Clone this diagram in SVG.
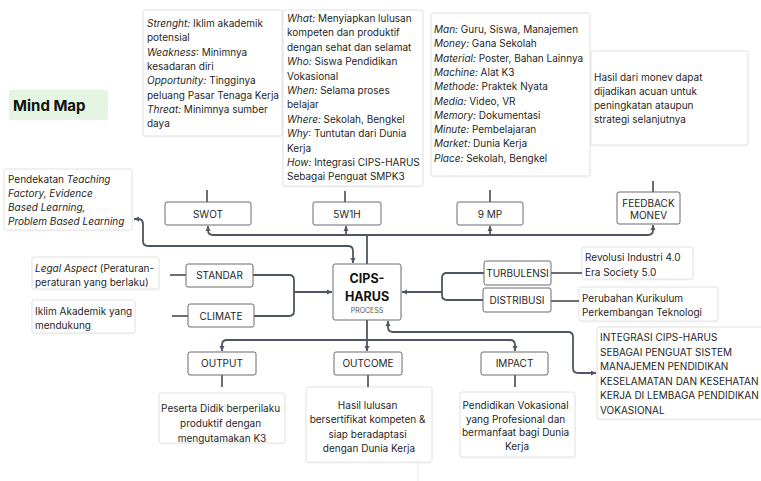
<svg xmlns="http://www.w3.org/2000/svg" width="761" height="481" viewBox="0 0 761 481">
  <defs>
    <marker id="arr" markerUnits="userSpaceOnUse" markerWidth="6" markerHeight="6" refX="5" refY="3" orient="auto-start-reverse">
      <path d="M0,0.5 L5,3 L0,5.5 Z" fill="#4f5663"/>
    </marker>
    <filter id="sh" x="-5%" y="-5%" width="110%" height="115%">
      <feDropShadow dx="0" dy="0.6" stdDeviation="0.6" flood-color="#000" flood-opacity="0.08"/>
    </filter>
  </defs>
  <style>
    text { font-family: Inter, "Noto Sans", "Liberation Sans", sans-serif; font-size: 10px; fill: #1f1f1f; }
    .i { font-style: italic; }
    .note { fill: #ffffff; stroke: #e2e2e2; stroke-width: 1; filter: url(#sh); }
    .node rect { fill: #ffffff; stroke: #6a6a6a; stroke-width: 1; }
    .lbl { text-anchor: middle; }
    .c { text-anchor: middle; }
    .wire { fill: none; stroke: #4f5663; stroke-width: 1.8; }
    .stub { fill: none; stroke: #3c3f44; stroke-width: 1.5; }
  </style>

  <rect width="761" height="481" fill="#ffffff"/>

  <!-- title -->
  <g id="title">
    <rect x="9" y="90" width="99" height="30" rx="2" fill="#e4f6e2"/>
    <text x="13" y="111" style="font-size:15px;font-weight:700;fill:#111">Mind Map</text>
  </g>

  <!-- description notes -->
  <g id="note-swot">
    <rect class="note" x="143" y="10" width="139" height="126" rx="2"/>
    <text x="147" y="27">
      <tspan class="i">Strenght:</tspan> Iklim akademik
      <tspan x="147" dy="14.3">potensial</tspan>
      <tspan x="147" dy="14.3" class="i">Weakness</tspan>: Minimnya
      <tspan x="147" dy="14.3">kesadaran diri</tspan>
      <tspan x="147" dy="14.3" class="i">Opportunity:</tspan> Tingginya
      <tspan x="147" dy="14.3">peluang Pasar Tenaga Kerja</tspan>
      <tspan x="147" dy="14.3" class="i">Threat:</tspan> Minimnya sumber
      <tspan x="147" dy="14.3">daya</tspan>
    </text>
  </g>

  <g id="note-5w1h">
    <rect class="note" x="283" y="10" width="140" height="176" rx="2"/>
    <text x="287" y="22">
      <tspan class="i">What:</tspan> Menyiapkan lulusan
      <tspan x="287" dy="14.4">kompeten dan produktif</tspan>
      <tspan x="287" dy="14.4">dengan sehat dan selamat</tspan>
      <tspan x="287" dy="14.4" class="i">Who:</tspan>  Siswa Pendidikan
      <tspan x="287" dy="14.4">Vokasional</tspan>
      <tspan x="287" dy="14.4" class="i">When:</tspan> Selama proses
      <tspan x="287" dy="14.4">belajar</tspan>
      <tspan x="287" dy="14.4" class="i">Where:</tspan> Sekolah, Bengkel
      <tspan x="287" dy="14.4" class="i">Why</tspan>: Tuntutan dari Dunia
      <tspan x="287" dy="14.4">Kerja</tspan>
      <tspan x="287" dy="14.4" class="i">How:</tspan> Integrasi CIPS-HARUS
      <tspan x="287" dy="14.4">Sebagai Penguat SMPK3</tspan>
    </text>
  </g>

  <g id="note-9mp">
    <rect class="note" x="431" y="13" width="159" height="163" rx="2"/>
    <text x="434" y="33">
      <tspan class="i">Man:</tspan> Guru, Siswa, Manajemen
      <tspan x="434" dy="14.3" class="i">Money:</tspan> Gana Sekolah
      <tspan x="434" dy="14.3" class="i">Material:</tspan> Poster, Bahan Lainnya
      <tspan x="434" dy="14.3" class="i">Machine:</tspan> Alat K3
      <tspan x="434" dy="14.3" class="i">Methode:</tspan> Praktek Nyata
      <tspan x="434" dy="14.3" class="i">Media:</tspan> Video, VR
      <tspan x="434" dy="14.3" class="i">Memory:</tspan> Dokumentasi
      <tspan x="434" dy="14.3" class="i">Minute:</tspan> Pembelajaran
      <tspan x="434" dy="14.3" class="i">Market:</tspan> Dunia Kerja
      <tspan x="434" dy="14.3" class="i">Place:</tspan> Sekolah, Bengkel
    </text>
  </g>

  <g id="note-feedback">
    <rect class="note" x="591" y="51" width="157" height="94" rx="2"/>
    <text x="594" y="80.5">
      <tspan>Hasil dari monev dapat</tspan>
      <tspan x="594" dy="14.2">dijadikan acuan untuk</tspan>
      <tspan x="594" dy="14.2">peningkatan ataupun</tspan>
      <tspan x="594" dy="14.2">strategi selanjutnya</tspan>
    </text>
  </g>

  <g id="note-pendekatan">
    <rect class="note" x="4" y="169" width="128" height="61" rx="2"/>
    <text x="8" y="183">
      <tspan>Pendekatan </tspan><tspan class="i">Teaching</tspan>
      <tspan x="8" dy="14.1" class="i">Factory, Evidence</tspan>
      <tspan x="8" dy="14.1" class="i">Based Learning,</tspan>
      <tspan x="8" dy="14.1" class="i">Problem Based Learning</tspan>
    </text>
  </g>

  <g id="note-legal">
    <rect class="note" x="32" y="257" width="127" height="32" rx="2"/>
    <text x="35" y="272">
      <tspan class="i">Legal Aspect</tspan> (Peraturan-
      <tspan x="35" dy="14">peraturan yang berlaku)</tspan>
    </text>
  </g>

  <g id="note-iklim">
    <rect class="note" x="32" y="300" width="103" height="33" rx="2"/>
    <text x="35" y="315">
      <tspan>Iklim Akademik yang</tspan>
      <tspan x="35" dy="14">mendukung</tspan>
    </text>
  </g>

  <g id="note-revolusi">
    <rect class="note" x="582" y="247" width="111" height="32" rx="2"/>
    <text x="585" y="261">
      <tspan>Revolusi Industri 4.0</tspan>
      <tspan x="585" dy="14.5">Era Society 5.0</tspan>
    </text>
  </g>

  <g id="note-perubahan">
    <rect class="note" x="579" y="287" width="139" height="34" rx="2"/>
    <text x="582" y="302">
      <tspan>Perubahan Kurikulum</tspan>
      <tspan x="582" dy="13.7">Perkembangan Teknologi</tspan>
    </text>
  </g>

  <g id="note-integrasi">
    <rect class="note" x="597" y="327" width="170" height="92" rx="2"/>
    <text x="600" y="341">
      <tspan>INTEGRASI CIPS-HARUS</tspan>
      <tspan x="600" dy="14.6">SEBAGAI PENGUAT SISTEM</tspan>
      <tspan x="600" dy="14.6">MANAJEMEN PENDIDIKAN</tspan>
      <tspan x="600" dy="14.6">KESELAMATAN DAN KESEHATAN</tspan>
      <tspan x="600" dy="14.6">KERJA DI LEMBAGA PENDIDIKAN</tspan>
      <tspan x="600" dy="14.6">VOKASIONAL</tspan>
    </text>
  </g>

  <g id="note-output">
    <rect class="note" x="159" y="393" width="126" height="50" rx="2"/>
    <text class="c" y="412">
      <tspan x="222">Peserta Didik berperilaku</tspan>
      <tspan x="222" dy="15">produktif dengan</tspan>
      <tspan x="222" dy="15">mengutamakan K3</tspan>
    </text>
  </g>

  <g id="note-outcome">
    <path d="M418 462 V481" stroke="#e6e6e6" stroke-width="1" fill="none"/>
    <rect class="note" x="306" y="387" width="126" height="75" rx="2"/>
    <text class="c" y="409">
      <tspan x="369">Hasil lulusan</tspan>
      <tspan x="369" dy="14.3">bersertifikat kompeten &amp;</tspan>
      <tspan x="369" dy="14.3">siap beradaptasi</tspan>
      <tspan x="369" dy="14.3">dengan Dunia Kerja</tspan>
    </text>
  </g>

  <g id="note-impact">
    <rect class="note" x="460" y="392" width="115" height="65" rx="2"/>
    <text class="c" y="409">
      <tspan x="517">Pendidikan Vokasional</tspan>
      <tspan x="517" dy="13.7">yang Profesional dan</tspan>
      <tspan x="517" dy="13.7">bermanfaat bagi Dunia</tspan>
      <tspan x="517" dy="13.7">Kerja</tspan>
    </text>
  </g>

  <!-- connectors -->
  <g id="connectors">
    <!-- stubs linking notes to their nodes -->
    <path class="stub" d="M207 190 V202 M345 191 V202 M490 190 V202 M653 181 V192"/>
    <path class="stub" d="M170 275 H186 M172 316 H188"/>
    <path class="stub" d="M551 273 H582 M551 301 H579"/>
    <path class="stub" d="M222 375 V387 M368 375 V387 M515 375 V387"/>

    <!-- upper bus -->
    <path class="wire" d="M367 264 V235"/>
    <path class="wire" marker-end="url(#arr)" d="M367 235 H213 Q208 235 208 230 V226"/>
    <path class="wire" marker-end="url(#arr)" d="M367 235 H648 Q653 235 653 230 V225"/>
    <path class="wire" marker-end="url(#arr)" d="M346 235 V226"/>
    <path class="wire" marker-end="url(#arr)" d="M490 235 V226"/>

    <!-- Pendekatan link -->
    <path class="wire" marker-start="url(#arr)" marker-end="url(#arr)" d="M134 219 H138 Q143 219 143 224 V241 Q143 246 148 246 H348 Q353 246 353 251 V263"/>

    <!-- inputs from the left -->
    <path class="wire" d="M253 275 H289 Q294 275 294 280 V311 Q294 316 289 316 H254"/>
    <path class="wire" marker-end="url(#arr)" d="M294 292 H332"/>

    <!-- inputs from the right -->
    <path class="wire" d="M484 273 H447 Q442 273 442 278 V295 Q442 300 447 300 H483"/>
    <path class="wire" marker-end="url(#arr)" d="M442 292 H402"/>

    <!-- link to integration note -->
    <path class="wire" marker-start="url(#arr)" marker-end="url(#arr)" d="M388 321 V327 Q388 332 393 332 H568 Q573 332 573 337 V368 Q573 373 578 373 H596"/>

    <!-- lower bus -->
    <path class="wire" marker-end="url(#arr)" d="M367 320 V351"/>
    <path class="wire" marker-end="url(#arr)" d="M367 340 H227 Q222 340 222 345 V351"/>
    <path class="wire" marker-end="url(#arr)" d="M367 340 H510 Q515 340 515 345 V351"/>
  </g>

  <!-- nodes -->
  <g id="swot" class="node">
    <rect x="165" y="202" width="86" height="23" rx="2"/>
    <text class="lbl" x="208" y="217.5">SWOT</text>
  </g>
  <g id="w5h1" class="node">
    <rect x="313" y="202" width="68" height="23" rx="2"/>
    <text class="lbl" x="347" y="217.5">5W1H</text>
  </g>
  <g id="mp9" class="node">
    <rect x="457" y="202" width="66" height="23" rx="2"/>
    <text class="lbl" x="490" y="217.5">9 MP</text>
  </g>
  <g id="feedback" class="node">
    <rect x="617" y="192" width="63" height="32" rx="2"/>
    <text class="lbl" x="648.5" y="206.5">FEEDBACK<tspan x="648.5" dy="12.5">MONEV</tspan></text>
  </g>
  <g id="standar" class="node">
    <rect x="186" y="264" width="67" height="23" rx="2"/>
    <text class="lbl" x="219.5" y="279">STANDAR</text>
  </g>
  <g id="climate" class="node">
    <rect x="188" y="304" width="66" height="23" rx="2"/>
    <text class="lbl" x="221" y="319.5">CLIMATE</text>
  </g>
  <g id="cips" class="node">
    <rect x="333" y="264" width="68" height="56" rx="2"/>
    <text class="lbl" x="367" y="283" style="font-size:12.5px;font-weight:700;fill:#111">CIPS-</text>
    <text class="lbl" x="367" y="301" style="font-size:12.5px;font-weight:700;fill:#111">HARUS</text>
    <text class="lbl" x="367" y="312.5" style="font-size:7px;fill:#555">PROCESS</text>
  </g>
  <g id="turbulensi" class="node">
    <rect x="484" y="261" width="67" height="24" rx="2"/>
    <text class="lbl" x="517.5" y="276.5">TURBULENSI</text>
  </g>
  <g id="distribusi" class="node">
    <rect x="483" y="288" width="68" height="24" rx="2"/>
    <text class="lbl" x="517" y="303.5">DISTRIBUSI</text>
  </g>
  <g id="output" class="node">
    <rect x="188" y="352" width="68" height="23" rx="2"/>
    <text class="lbl" x="222" y="367">OUTPUT</text>
  </g>
  <g id="outcome" class="node">
    <rect x="334" y="352" width="68" height="23" rx="2"/>
    <text class="lbl" x="368" y="367">OUTCOME</text>
  </g>
  <g id="impact" class="node">
    <rect x="481" y="352" width="67" height="23" rx="2"/>
    <text class="lbl" x="514.5" y="367">IMPACT</text>
  </g>
</svg>
